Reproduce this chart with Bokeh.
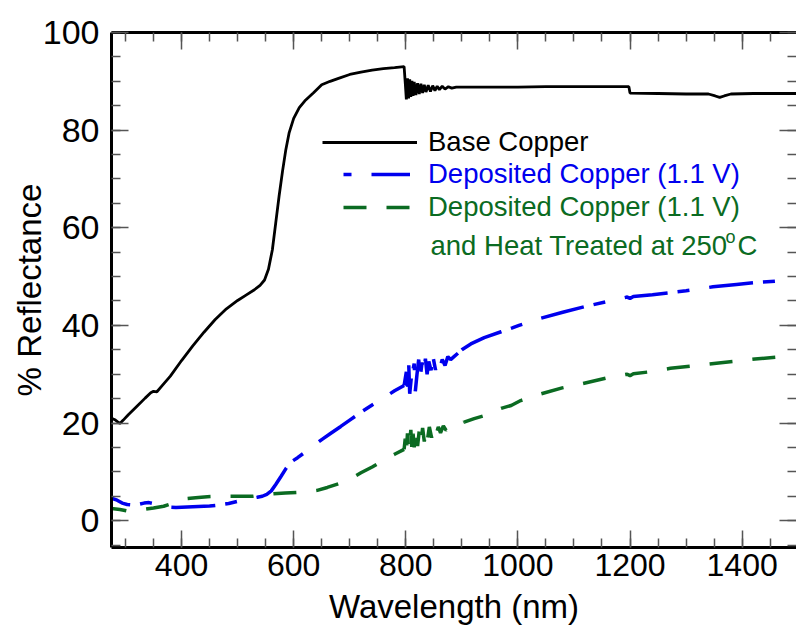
from bokeh.plotting import figure
from bokeh.models import LinearAxis, FixedTicker, Range1d, Legend, LegendItem, Label
from bokeh.embed import file_html
from bokeh.resources import INLINE

# ---- spectra: wavelength (nm) and % reflectance ----
base_wl = [275, 282, 290, 296, 305, 320, 335, 345, 350, 356, 365, 380, 400, 420, 440,
           460, 480, 500, 515, 530, 540, 548, 555, 562, 568, 574, 580, 586, 592, 600,
           610, 620, 635, 650, 665, 680, 700, 720, 740, 760, 780, 797,
           799, 801, 803, 805, 807, 809, 811, 813, 815, 818, 821, 824, 827, 830, 833,
           836, 840, 844, 848, 852, 856, 860, 865, 870, 876, 882, 890,
           950, 1000, 1050, 1100, 1150, 1198, 1200, 1250, 1300, 1340, 1352, 1360,
           1368, 1380, 1420, 1460, 1500]
base_r = [21.0, 20.6, 19.9, 20.6, 21.7, 23.4, 25.1, 26.2, 26.5, 26.4, 27.6, 29.6, 32.8,
          35.8, 38.6, 41.2, 43.4, 45.1, 46.2, 47.3, 48.2, 49.3, 51.5, 55.5, 61.0, 66.5,
          71.5, 76.0, 79.5, 82.4, 84.6, 86.0, 87.6, 89.3, 90.0, 90.6, 91.4, 91.9, 92.3,
          92.6, 92.8, 93.0,
          89.8, 86.3, 90.6, 86.5, 90.4, 86.8, 90.1, 87.0, 89.9, 87.2, 89.6, 87.4, 89.5,
          87.6, 89.3, 87.8, 89.2, 87.9, 89.1, 88.1, 89.0, 88.3, 89.0, 88.4, 88.9, 88.6,
          88.8,
          88.8, 88.8, 88.9, 88.9, 88.9, 88.9, 87.6, 87.5, 87.4, 87.4, 87.0, 86.7,
          87.0, 87.4, 87.5, 87.5, 87.5]

dep_wl = [275, 285, 294, 303, 312, 322, 333, 342, 350, 360, 375, 390, 410, 430, 450,
          466, 484, 502, 520, 535, 544, 552, 560, 568, 577, 587, 595, 607, 620, 636,
          650, 665, 684, 700, 720, 740, 761, 780, 797,
          801, 803, 805, 807, 810, 813, 815, 817, 820, 823, 826, 829, 832, 835, 838,
          841, 845, 849, 853, 857, 861, 865, 870, 875, 880, 886, 893,
          900, 916, 940, 970, 990, 1002, 1039, 1080, 1118, 1156, 1195, 1200, 1206,
          1240, 1271, 1300, 1348, 1390, 1427, 1464, 1475]
dep_r = [4.6, 4.2, 3.6, 3.3, 3.2, 3.3, 3.6, 3.7, 3.5, 3.1, 2.8, 2.7, 2.8, 2.9, 3.0,
         3.2, 3.5, 4.0, 4.5, 4.8, 5.0, 5.4, 6.1, 7.4, 9.0, 10.8, 12.0, 12.9, 14.0, 15.4,
         16.6, 17.8, 19.3, 20.6, 22.2, 23.7, 25.2, 26.6, 27.7,
         30.5, 26.5, 32.9, 26.0, 29.5, 31.0, 32.2, 26.5, 30.0, 33.0, 29.6, 32.4, 30.2,
         33.2, 30.0, 32.6, 30.8, 33.3, 30.9, 32.8, 31.4, 33.0, 31.8, 33.6, 33.0, 33.6,
         34.3,
         35.0, 36.2, 37.5, 38.7, 39.5, 40.0, 41.4, 42.7, 43.8, 44.8, 45.8, 45.5, 45.9,
         46.3, 46.7, 47.1, 47.9, 48.4, 48.8, 49.1, 49.2]

heat_wl = [275, 290, 303, 318, 333, 350, 368, 390, 407, 430, 446, 465, 484, 505, 527,
           545, 564, 585, 607, 625, 642, 660, 684, 700, 720, 740, 761, 780, 797,
           799, 801, 803, 805, 807, 809, 811, 813, 815, 818, 821, 824, 827, 830, 833,
           836, 839, 842, 846, 850, 854, 858, 862, 867, 872, 878, 885, 893, 904,
           922, 943, 970, 988, 1005, 1039, 1079, 1116, 1157, 1195, 1200, 1206, 1236,
           1272, 1312, 1350, 1391, 1423, 1464, 1475]
heat_r = [2.5, 2.3, 2.0, 2.0, 2.3, 2.6, 2.95, 3.8, 4.5, 4.75, 4.9, 5.0, 5.0, 5.0, 5.0,
          5.3, 5.5, 5.65, 5.8, 5.9, 6.2, 6.8, 7.7, 8.5, 9.8, 11.0, 12.4, 13.6, 14.6,
          16.8, 14.0, 17.9, 14.5, 16.2, 18.6, 14.3, 17.8, 15.0, 18.9, 15.3, 18.4, 16.0,
          19.0, 16.2, 18.7, 16.9, 19.2, 17.0, 19.0, 17.6, 19.2, 18.0, 19.4, 18.5, 19.2,
          19.0, 19.6, 20.2,
          20.9, 21.6, 23.0, 23.6, 24.6, 25.9, 27.2, 28.1, 29.2, 30.0, 29.7, 30.1, 30.5,
          31.2, 31.7, 32.2, 32.7, 33.1, 33.5, 33.6]

x_major = [400, 600, 800, 1000, 1200, 1400]
x_minor = list(range(300, 1501, 50))
y_major = [0, 20, 40, 60, 80, 100]
y_minor = list(range(-5, 101, 5))

FONT = "Liberation Sans"
BLUE = "#0000ee"
GREEN = "#0b6b22"

X0, X1 = 275, 1497
Y0, Y1 = -5.5, 100
# frame edges in canvas pixels (left, right, top, bottom)
FL, FR, FT, FB = 111, 796, 32, 547

BLUE_DASH = [44, 10, 12, 20]
GREEN_DASH = [23, 20]
# dash phase (px into the pattern) where each stretch of a curve begins;
# the noisy stretch round 800 nm carries on from the one before it
BLUE_PHASE = {275: 24, 797: None, 893: 81}
GREEN_PHASE = {275: 8, 797: None, 904: 3.5}

p = figure(width=796, height=627, x_range=Range1d(X0, X1), y_range=Range1d(Y0, Y1),
           output_backend="svg", toolbar_location=None,
           min_border_left=FL, min_border_right=0, min_border_top=FT,
           min_border_bottom=627 - FB,
           x_axis_label="Wavelength (nm)", y_axis_label="% Reflectance")
p.grid.visible = False
p.outline_line_color = None


def style_axis(ax, ticks, minor, labels=True):
    ax.ticker = FixedTicker(ticks=ticks, minor_ticks=minor)
    ax.axis_line_width = 3
    ax.axis_line_color = "black"
    ax.major_tick_in = 17
    ax.major_tick_out = 0
    ax.minor_tick_in = 9
    ax.minor_tick_out = 0
    ax.major_tick_line_color = "#555555"
    ax.minor_tick_line_color = "#555555"
    ax.major_tick_line_width = 1.5
    ax.minor_tick_line_width = 1.5
    ax.major_label_text_font = FONT
    ax.axis_label_text_font = FONT
    ax.axis_label_text_font_style = "normal"
    ax.axis_label_text_font_size = "33px"
    ax.axis_label_text_color = "black"
    if labels:
        ax.major_label_text_font_size = "33px"
        ax.major_label_text_color = "black"
    else:
        ax.major_label_text_font_size = "1px"
        ax.major_label_text_color = None
        ax.major_label_standoff = 0


xb = p.xaxis[0]
style_axis(xb, x_major, x_minor)
xb.major_label_text_font_size = "32px"
xb.major_label_standoff = 6
xb.axis_label_standoff = 9

yl = p.yaxis[0]
style_axis(yl, y_major, y_minor)
yl.major_label_text_font_size = "34px"
yl.major_label_standoff = 12
yl.axis_label_standoff = -8

top = LinearAxis()
style_axis(top, x_major, x_minor, labels=False)
p.add_layout(top, "above")

right = LinearAxis()
style_axis(right, y_major, y_minor, labels=False)
right.axis_line_color = None
p.add_layout(right, "right")


def dash_run(xs, ys, pattern, phase, out_x, out_y):
    """Append the 'on' runs of a dash pattern (in screen pixels) along one
    polyline stretch; returns the pattern phase reached at its end."""
    kx = (FR - FL) / (X1 - X0)
    ky = (FB - FT) / (Y1 - Y0)
    period = sum(pattern)
    ph = phase % period
    idx = 0
    while ph >= pattern[idx]:
        ph -= pattern[idx]
        idx += 1
    left = pattern[idx] - ph
    on = idx % 2 == 0
    cur_x, cur_y = [xs[0]], [ys[0]]
    travelled = 0.0
    for i in range(1, len(xs)):
        x0, y0, x1, y1 = xs[i - 1], ys[i - 1], xs[i], ys[i]
        seg = (((x1 - x0) * kx) ** 2 + ((y1 - y0) * ky) ** 2) ** 0.5
        travelled += seg
        t = 0.0
        while seg - t > left:
            t += left
            f = t / seg
            px, py = x0 + (x1 - x0) * f, y0 + (y1 - y0) * f
            if on:
                cur_x.append(px)
                cur_y.append(py)
                out_x.append(cur_x)
                out_y.append(cur_y)
            else:
                cur_x, cur_y = [px], [py]
            on = not on
            idx = (idx + 1) % len(pattern)
            left = pattern[idx]
        left -= seg - t
        if on:
            cur_x.append(x1)
            cur_y.append(y1)
    if on and len(cur_x) > 1:
        out_x.append(cur_x)
        out_y.append(cur_y)
    return phase + travelled


def dashed(xs, ys, pattern, phases):
    starts = sorted(phases)
    out_x, out_y = [], []
    phase = 0.0
    for k, s in enumerate(starts):
        e = starts[k + 1] if k + 1 < len(starts) else None
        sel = [i for i, w in enumerate(xs) if w >= s and (e is None or w <= e)]
        if phases[s] is not None:
            phase = phases[s]
        phase = dash_run([xs[i] for i in sel], [ys[i] for i in sel],
                         pattern, phase, out_x, out_y)
    return out_x, out_y


r_base = p.line(base_wl, base_r, line_color="black", line_width=2.8)

bx, by = dashed(dep_wl, dep_r, BLUE_DASH, BLUE_PHASE)
p.multi_line(bx, by, line_color=BLUE, line_width=3.5)
gx, gy = dashed(heat_wl, heat_r, GREEN_DASH, GREEN_PHASE)
p.multi_line(gx, gy, line_color=GREEN, line_width=3.5)

# key-only renderers (no visible points) carrying the dash styles for the legend
nan = float("nan")
k_dep = p.line([nan], [nan], line_color=BLUE, line_width=3.5,
               line_dash=" ".join(str(v) for v in BLUE_DASH), line_dash_offset=58)
k_heat = p.line([nan], [nan], line_color=GREEN, line_width=3.5,
                line_dash=" ".join(str(v) for v in GREEN_DASH))


def key(renderer, label, color, loc, glyph_w, standoff):
    lg = Legend(items=[LegendItem(label=label, renderers=[renderer])], location=loc,
                glyph_width=glyph_w, glyph_height=30, label_height=30,
                label_standoff=standoff, padding=0, margin=0, spacing=0,
                border_line_alpha=0, background_fill_alpha=0,
                label_text_font=FONT, label_text_font_size="27.5px",
                label_text_color=color)
    p.add_layout(lg, "center")


key(r_base, "Base Copper", "black", (211, 389), 95, 11)
key(k_dep, "Deposited Copper (1.1 V)", BLUE, (232, 357), 67, 18)
key(k_heat, "Deposited Copper (1.1 V)", GREEN, (232, 324), 67, 18)


# second line of the heat-treated entry, with a raised "o" for degrees
def dx(px):
    return X0 + (px - FL) * (X1 - X0) / (FR - FL)


def dy(py):
    return Y0 + (FB - py) * (Y1 - Y0) / (FB - FT)


p.add_layout(Label(x=dx(430), y=dy(245), text="and Heat Treated at 250",
                   text_font=FONT, text_font_size="27.5px", text_color=GREEN,
                   text_baseline="middle"))
p.add_layout(Label(x=dx(725), y=dy(236), text="o",
                   text_font=FONT, text_font_size="18px", text_color=GREEN,
                   text_baseline="middle"))
p.add_layout(Label(x=dx(737), y=dy(245), text="C",
                   text_font=FONT, text_font_size="27.5px", text_color=GREEN,
                   text_baseline="middle"))

open("out.html", "w").write(file_html(p, INLINE))
